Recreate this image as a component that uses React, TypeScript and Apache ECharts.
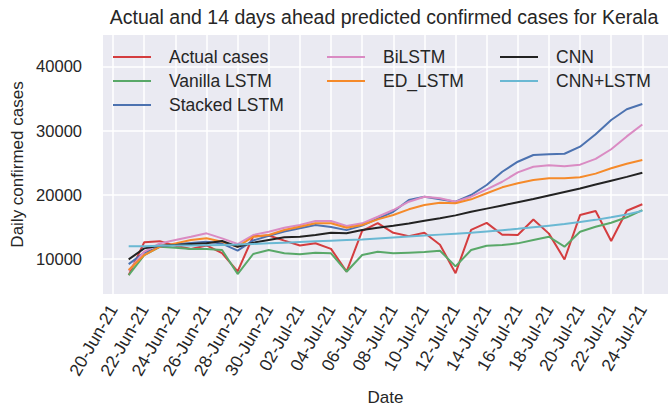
import React, { useEffect, useRef } from 'react';
import * as echarts from 'echarts';

const dates = [
  '21-Jun-21', '22-Jun-21', '23-Jun-21', '24-Jun-21', '25-Jun-21', '26-Jun-21', '27-Jun-21', '28-Jun-21',
  '29-Jun-21', '30-Jun-21', '01-Jul-21', '02-Jul-21', '03-Jul-21', '04-Jul-21', '05-Jul-21', '06-Jul-21',
  '07-Jul-21', '08-Jul-21', '09-Jul-21', '10-Jul-21', '11-Jul-21', '12-Jul-21', '13-Jul-21', '14-Jul-21',
  '15-Jul-21', '16-Jul-21', '17-Jul-21', '18-Jul-21', '19-Jul-21', '20-Jul-21', '21-Jul-21', '22-Jul-21',
  '23-Jul-21', '24-Jul-21',
];

const tickLabels = [
  '20-Jun-21', '22-Jun-21', '24-Jun-21', '26-Jun-21', '28-Jun-21', '30-Jun-21', '02-Jul-21', '04-Jul-21',
  '06-Jul-21', '08-Jul-21', '10-Jul-21', '12-Jul-21', '14-Jul-21', '16-Jul-21', '18-Jul-21', '20-Jul-21',
  '22-Jul-21', '24-Jul-21',
];

const yTicks = [10000, 20000, 30000, 40000];

const actualCases = [
  7499, 12617, 12787, 12078, 11546, 12118, 10905, 8063, 13550, 13658, 12868, 12095, 12456, 11584, 8037, 14373,
  15600, 14087, 13563, 14087, 12220, 7798, 14539, 15637, 13773, 13750, 16148, 13956, 9931, 16848, 17481, 12818,
  17518, 18531,
];
const vanillaLSTM = [
  7500, 10600, 11900, 11760, 11550, 11550, 11400, 7660, 10780, 11400, 10890, 10730, 10980, 10890, 8020, 10620,
  11140, 10890, 10990, 11090, 11300, 8850, 11400, 12070, 12180, 12440, 12960, 13470, 11920, 14250, 15030, 15660,
  16500, 17630,
];
const stackedLSTM = [
  9200, 11000, 11900, 12300, 12500, 12700, 12400, 11300, 12900, 13600, 14300, 14800, 15300, 15000, 14500, 15200,
  16300, 17370, 19190, 19710, 19300, 18930, 19970, 21530, 23600, 25160, 26200, 26310, 26400, 27500, 29450, 31660,
  33330, 34150,
];
const biLSTM = [
  8200, 11140, 12440, 12960, 13470, 14000, 13220, 12340, 13740, 14260, 14880, 15300, 15920, 15920, 15140, 15560,
  16590, 17630, 18930, 19710, 19460, 18930, 19710, 20860, 22040, 23500, 24380, 24600, 24450, 24700, 25600, 27100,
  29100, 30950,
];
const edLSTM = [
  8290, 10620, 11920, 12440, 12960, 13220, 12700, 11920, 13470, 13740, 14520, 15030, 15560, 15560, 14880, 15300,
  16180, 16860, 17740, 18410, 18770, 18680, 19300, 20240, 21170, 21800, 22300, 22600, 22570, 22730, 23300, 24130,
  24850, 25420,
];
const cnn = [
  9950, 11660, 12080, 12180, 12340, 12440, 12800, 11920, 12540, 12960, 13380, 13470, 13740, 14100, 14000, 14520,
  14880, 15200, 15550, 15950, 16350, 16800, 17350, 17850, 18350, 18850, 19350, 19900, 20450, 21000, 21600, 22200,
  22800, 23450,
];
const cnnLSTM = [
  12000, 12000, 12050, 12100, 12100, 12150, 12200, 12250, 12350, 12450, 12550, 12650, 12750, 12850, 12950, 13050,
  13200, 13350, 13500, 13650, 13800, 13950, 14100, 14300, 14500, 14700, 14950, 15200, 15450, 15750, 16100, 16500,
  16950, 17500,
];

const MONTHS: Record<string, number> = { Jun: 5, Jul: 6 };
const BASE = Date.UTC(2021, 5, 20);
function dayIndex(s: string): number {
  const [dd, mm, yy] = s.split('-');
  return Math.round((Date.UTC(2000 + Number(yy), MONTHS[mm], Number(dd)) - BASE) / 86400000);
}

const FONT = '"Liberation Sans", Arial, sans-serif';
const TXT = '#262626';

const seriesDefs = [
  { name: 'Actual cases', data: actualCases, color: '#d43d3f' },
  { name: 'Vanilla LSTM', data: vanillaLSTM, color: '#59a868' },
  { name: 'Stacked LSTM', data: stackedLSTM, color: '#4c72b0' },
  { name: 'BiLSTM', data: biLSTM, color: '#da8bc3' },
  { name: 'ED_LSTM', data: edLSTM, color: '#f58a2a' },
  { name: 'CNN', data: cnn, color: '#222222' },
  { name: 'CNN+LSTM', data: cnnLSTM, color: '#6ab8d3' },
];

export default function App() {
  const ref = useRef<HTMLDivElement>(null);
  useEffect(() => {
    if (!ref.current) return;
    const chart = echarts.init(ref.current, undefined, { renderer: 'svg' });
    const xDays = dates.map(dayIndex);
    const tickDays = tickLabels.map(dayIndex);
    const legendCommon = {
      orient: 'vertical' as const,
      icon: 'rect',
      itemWidth: 38,
      itemHeight: 2,
      itemGap: 4,
      padding: 0,
      selectedMode: false,
      textStyle: { fontFamily: FONT, fontSize: 17.5, color: TXT, lineHeight: 20, padding: [0, 0, 0, 13] },
    };
    chart.setOption({
      animation: false,
      backgroundColor: '#ffffff',
      graphic: [
        {
          type: 'text',
          x: 384,
          y: 17,
          style: {
            text: 'Actual and 14 days ahead predicted confirmed cases for Kerala',
            fontFamily: FONT,
            fontSize: 19.5,
            fill: TXT,
            textAlign: 'center',
            textVerticalAlign: 'middle',
          },
        },
      ],
      legend: [
        { ...legendCommon, left: 113, top: 47, data: ['Actual cases', 'Vanilla LSTM', 'Stacked LSTM'] },
        { ...legendCommon, left: 327, top: 47, data: ['BiLSTM', 'ED_LSTM'] },
        { ...legendCommon, left: 500, top: 47, data: ['CNN', 'CNN+LSTM'] },
      ],
      grid: {
        left: 103,
        top: 35,
        right: 0,
        bottom: 112,
        show: true,
        backgroundColor: '#eaeaf2',
        borderWidth: 0,
        outerBoundsMode: 'none',
      },
      xAxis: {
        type: 'value',
        min: -0.65,
        max: 35.65,
        name: 'Date',
        nameLocation: 'middle',
        nameGap: 95,
        nameMoveOverlap: false,
        nameTextStyle: { fontFamily: FONT, fontSize: 17, color: TXT },
        axisLine: { show: false },
        axisTick: { show: false, customValues: tickDays },
        splitLine: { show: true, lineStyle: { color: '#ffffff', width: 1.5 } },
        axisLabel: {
          customValues: tickDays,
          rotate: 60,
          margin: 12,
          fontFamily: FONT,
          fontSize: 17.5,
          color: TXT,
          formatter: (v: number) => {
            const i = tickDays.indexOf(Math.round(v));
            return i >= 0 ? tickLabels[i] : '';
          },
        },
      },
      yAxis: {
        type: 'value',
        min: 4550,
        max: 44900,
        name: 'Daily confirmed cases',
        nameLocation: 'middle',
        nameRotate: 90,
        nameGap: 77,
        nameMoveOverlap: false,
        nameTextStyle: { fontFamily: FONT, fontSize: 17, color: TXT },
        axisLine: { show: false },
        axisTick: { show: false, customValues: yTicks },
        splitLine: { show: true, lineStyle: { color: '#ffffff', width: 1.5 } },
        axisLabel: {
          customValues: yTicks,
          margin: 21,
          fontFamily: FONT,
          fontSize: 16.5,
          color: TXT,
          formatter: (v: number) => String(v),
        },
      },
      series: seriesDefs.map((s) => ({
        name: s.name,
        type: 'line',
        data: s.data.map((v, i) => [xDays[i], v]),
        showSymbol: false,
        symbol: 'none',
        color: s.color,
        itemStyle: { color: s.color },
        lineStyle: { color: s.color, width: 2 },
        z: 2,
      })),
    });
    return () => chart.dispose();
  }, []);
  return <div ref={ref} style={{ position: 'fixed', left: 0, top: 0, width: 668, height: 406 }} />;
}
